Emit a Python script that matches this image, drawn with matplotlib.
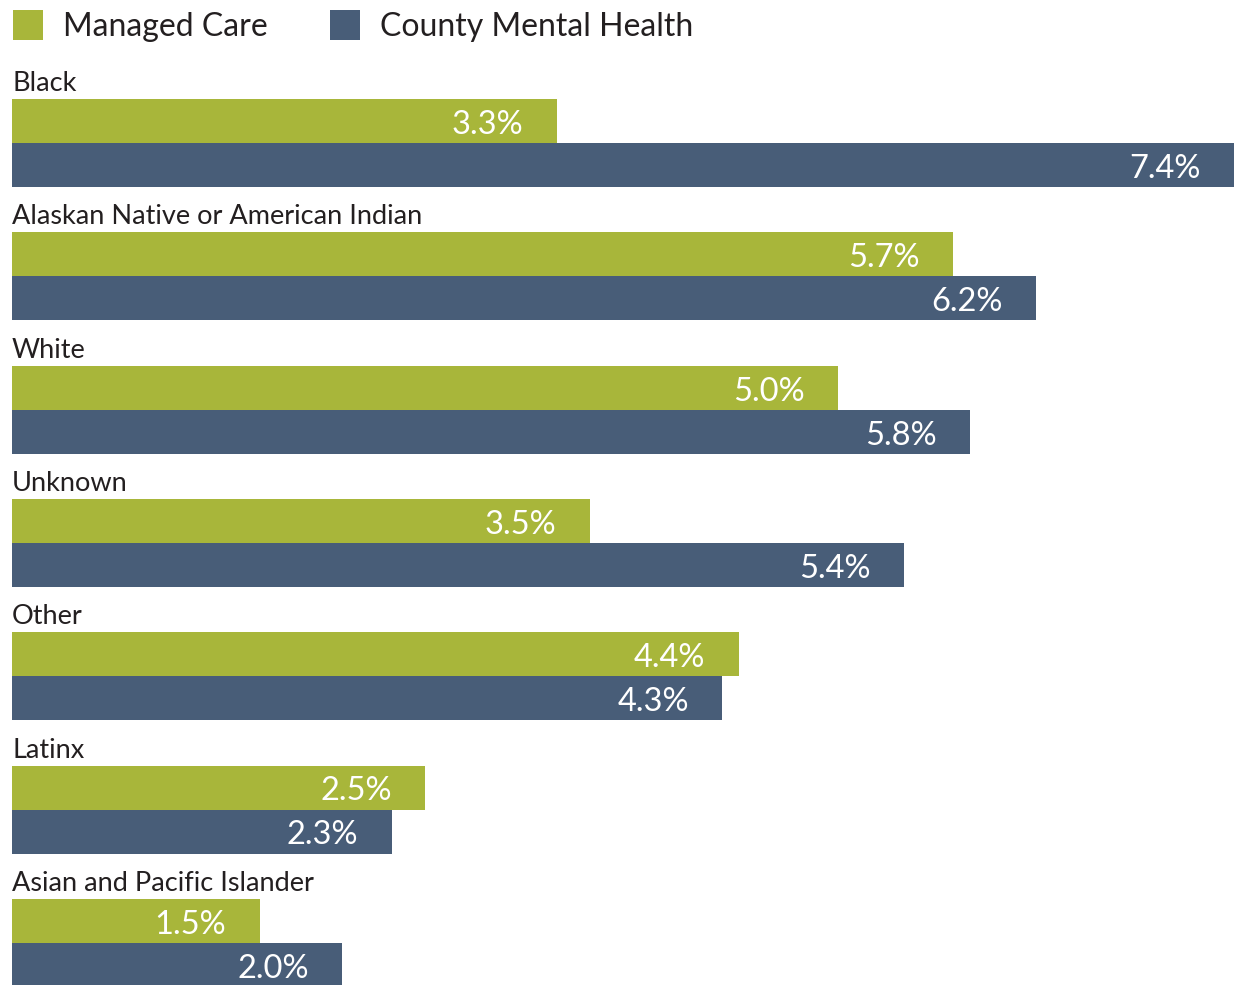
import numpy as np
import matplotlib
matplotlib.use("Agg")
import matplotlib.pyplot as plt
from matplotlib.patches import Rectangle

plt.rcParams['font.family'] = ['Lato', 'DejaVu Sans']

groups = ["Black", "Alaskan Native or American Indian", "White", "Unknown",
          "Other", "Latinx", "Asian and Pacific Islander"]
managed_care = [3.3, 5.7, 5.0, 3.5, 4.4, 2.5, 1.5]
county_mh = [7.4, 6.2, 5.8, 5.4, 4.3, 2.3, 2.0]
series_names = ["Managed Care", "County Mental Health"]
green = "#A8B63A"
blue = "#485D78"
W, H = 1234, 985

fig = plt.figure(figsize=(W / 100, H / 100), dpi=100)
ax = fig.add_axes([12 / W, 0, 1 - 12 / W, 1])
ax.set_xlim(0, 7.4)
ax.set_ylim(H, 0)
ax.axis("off")

step = 133.3
bar_h = 44
for i, g in enumerate(groups):
    top = 99 + i * step
    ax.text(0, top - 3, g, fontsize=19.5, color="#231F20", ha="left", va="bottom")
    for j, (vals, col) in enumerate([(managed_care, green), (county_mh, blue)]):
        y = top + j * bar_h
        ax.barh(y, vals[i], height=bar_h, align="edge", color=col, linewidth=0)
        ax.annotate(f"{vals[i]:.1f}%", (vals[i], y + bar_h / 2 + 4), xytext=(-24, 0),
                    textcoords="offset points", ha="right", va="center",
                    fontsize=23.5, color="white")

# legend drawn by hand
def px(x, y):
    return x / W, 1 - y / H

for name, col, x0 in [(series_names[0], green, 13), (series_names[1], blue, 330)]:
    fx, fy = px(x0, 40)
    fig.patches.append(Rectangle((fx, fy), 30 / W, 30 / H, transform=fig.transFigure,
                                 color=col, linewidth=0))
    tx, ty = px(x0 + 50, 27)
    fig.text(tx, ty, name, fontsize=23, color="#231F20", ha="left", va="center")

fig.savefig("out.png", dpi=100)
